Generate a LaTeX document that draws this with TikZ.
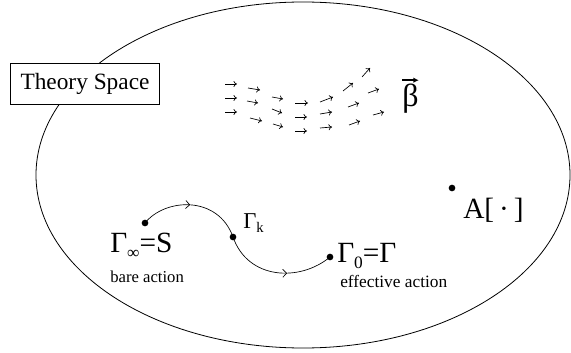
\documentclass[tikz,border=0pt]{standalone}
\usepackage{fontspec}
\setmainfont{Liberation Serif}
\usetikzlibrary{positioning,arrows.meta,decorations.markings}

\newcommand{\lowsub}[2]{\raisebox{-0.45ex}{\fontsize{#1}{#1}\selectfont #2}}

\begin{document}
\begin{tikzpicture}[
    x=0.75pt, y=-0.75pt,
    flowpt/.style={circle, fill=black, inner sep=0pt, minimum size=5pt},
    tagbox/.style={draw, fill=white, line width=0.5pt, minimum width=112pt, minimum height=31pt, font=\fontsize{17.5}{17.5}\selectfont},
    biglabel/.style={inner sep=0pt, anchor=base west, font=\fontsize{22}{22}\selectfont},
    smalllabel/.style={inner sep=0pt, anchor=base west, font=\fontsize{12.5}{12.5}\selectfont},
    flow/.style={line width=0.5pt, postaction={decorate},
        decoration={markings, mark=at position #1 with {\arrow{Straight Barb[length=3pt,width=6pt]}}}},
    field/.style={line width=0.5pt, -{To[length=2.6pt,width=4.5pt]}},
]
    \useasboundingbox (0,0) rectangle (571,353);

    %space
    \draw[line width=0.6pt] (303,175) ellipse [x radius=200.25pt, y radius=129.75pt];
    \node[tagbox] (space) at (85,84) {Theory Space};

    %beta field
    \foreach \xa/\ya/\xb/\yb in {
        225/84/237/84, 225/98/237/98, 225/112/237/112,
        248/88/260/90, 247/101/258/103, 250/118/262/121,
        272/97/283/99, 272/109/282/113, 273/124/283/127,
        295/103/308/103, 295/117/307/117, 295/131/307/131,
        320/102/333/97, 320/114/332/112, 320/128/332/127,
        343/91/353/83, 348/107/359/103, 349/125/360/121,
        362/77/370/68, 368/93/379/89, 373/115/384/112}
        \draw[field] (\xa,\ya) -- (\xb,\yb);
    \node[inner sep=0pt, anchor=base west, font=\fontsize{24}{24}\selectfont] (beta) at (402,107) {β};
    \draw[line width=1.1pt, -{Latex[length=4pt,width=4pt]}] ([yshift=3pt]beta.north west) -- ([yshift=3pt]beta.north east);

    %points
    \node[flowpt] (ginf) at (145,223) {};
    \node[flowpt] (gk) at (233,237) {};
    \node[flowpt] (gzero) at (330,257) {};
    \node[flowpt] (apt) at (452,188) {};

    %labels
    \node[biglabel] (ginflbl) at (110,252) {Γ\lowsub{13}{∞}=S};
    \node[smalllabel] (bare) at (110,282) {bare action};
    \node[biglabel, font=\fontsize{17}{17}\selectfont] (gklbl) at (243,228) {Γ\lowsub{11}{k}};
    \node[biglabel] (gzerolbl) at (337,262) {Γ\lowsub{13}{0}=Γ};
    \node[smalllabel, font=\fontsize{13}{13}\selectfont] (eff) at (340,287) {effective action};
    \node[biglabel] (alabel) at (463,218) {A[\,·\,]};

    %flow
    \draw[flow=0.47] (ginf.center) .. controls (165,198) and (218,195) .. (gk.center);
    \draw[flow=0.6] (gk.center) .. controls (248,280) and (300,282) .. (gzero.center);
\end{tikzpicture}
\end{document}
